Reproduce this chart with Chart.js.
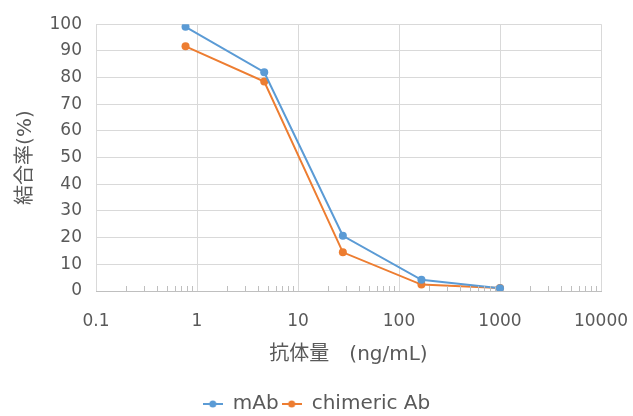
<!DOCTYPE html>
<html>
<head>
<meta charset="utf-8">
<script src="https://cdn.jsdelivr.net/npm/chart.js@4.4.1/dist/chart.umd.min.js"></script>
<style>
  html, body { margin: 0; padding: 0; background: #ffffff; }
  #wrap { width: 633px; height: 416px; }
</style>
</head>
<body>
<div id="wrap"><canvas id="grafico"></canvas></div>
<script>
// datos (diluciones 1:6)
const concentraciones = [0.77, 4.63, 27.8, 166.7, 1000];
const valoresMAb = [99, 82, 20.7, 4.2, 1];
const valoresQuimerico = [91.7, 78.5, 14.5, 2.4, 1.1];
const etiquetasX = [0.1, 1, 10, 100, 1000, 10000];
const etiquetasY = [0, 10, 20, 30, 40, 50, 60, 70, 80, 90, 100];

const AZUL = '#5B9BD5';
const NARANJA = '#ED7D31';
const FUENTE = "'DejaVu Sans', 'Noto Sans CJK JP', sans-serif";

// marcador de leyenda: línea con punto
function marcadorLeyenda(color) {
    const c = document.createElement('canvas');
    c.width = 20; c.height = 12;
    const g = c.getContext('2d');
    g.strokeStyle = color; g.lineWidth = 2;
    g.beginPath(); g.moveTo(0, 6); g.lineTo(20, 6); g.stroke();
    g.fillStyle = color;
    g.beginPath(); g.arc(10, 6, 3.5, 0, Math.PI * 2); g.fill();
    return c;
}

// marcas menores del eje logarítmico
const marcasMenores = {
    id: 'marcasMenores',
    afterDatasetsDraw(chart) {
        const x = chart.scales.x;
        const abajo = chart.chartArea.bottom;
        const ctx = chart.ctx;
        ctx.save();
        ctx.strokeStyle = '#bfbfbf';
        ctx.lineWidth = 1;
        for (let d = -1; d < 4; d++) {
            for (let k = 2; k <= 9; k++) {
                const px = Math.round(x.getPixelForValue(k * Math.pow(10, d))) + 0.5;
                ctx.beginPath();
                ctx.moveTo(px, abajo);
                ctx.lineTo(px, abajo - 5);
                ctx.stroke();
            }
        }
        ctx.restore();
    }
};

const datos = (serie) => concentraciones.map((c, i) => ({ x: c, y: serie[i] }));

new Chart(document.getElementById('grafico'), {
    type: 'line',
    data: {
        datasets: [
            {
                label: 'mAb',
                data: datos(valoresMAb),
                borderColor: AZUL,
                backgroundColor: AZUL,
                borderWidth: 2,
                pointRadius: 4,
                pointBorderWidth: 0
            },
            {
                label: 'chimeric Ab',
                data: datos(valoresQuimerico),
                borderColor: NARANJA,
                backgroundColor: NARANJA,
                borderWidth: 2,
                pointRadius: 4,
                pointBorderWidth: 0
            }
        ]
    },
    options: {
        responsive: true,
        maintainAspectRatio: false,
        animation: false,
        layout: { padding: { left: 0, right: 0, top: 12, bottom: -8 } },
        plugins: {
            legend: {
                position: 'bottom',
                labels: {
                    usePointStyle: true,
                    color: '#595959',
                    font: { family: FUENTE, size: 20 },
                    padding: 3,
                    generateLabels(chart) {
                        return chart.data.datasets.map((ds, i) => ({
                            text: ds.label,
                            pointStyle: marcadorLeyenda(ds.borderColor),
                            fillStyle: ds.borderColor,
                            strokeStyle: ds.borderColor,
                            fontColor: '#595959',
                            lineWidth: 0,
                            datasetIndex: i
                        }));
                    }
                }
            },
            tooltip: { enabled: false }
        },
        scales: {
            x: {
                type: 'logarithmic',
                min: 0.1,
                max: 10000,
                afterBuildTicks(scale) {
                    scale.ticks = etiquetasX.map(v => ({ value: v }));
                },
                afterFit(scale) {
                    scale.height = 100;
                    scale.paddingRight = 32;
                    scale.paddingLeft = 0;
                },
                ticks: {
                    color: '#595959',
                    font: { family: FUENTE, size: 17 },
                    padding: 20,
                    maxRotation: 0,
                    autoSkip: false,
                    callback: (v) => String(v)
                },
                grid: { color: '#d9d9d9', drawTicks: false },
                border: { color: '#bfbfbf' },
                title: {
                    display: true,
                    text: '抗体量　(ng/mL)',
                    color: '#595959',
                    font: { family: FUENTE, size: 20 },
                    padding: { top: 10, bottom: 24 }
                }
            },
            y: {
                min: 0,
                max: 100,
                afterBuildTicks(scale) {
                    scale.ticks = etiquetasY.map(v => ({ value: v }));
                },
                afterFit(scale) { scale.width = 96; },
                ticks: {
                    color: '#595959',
                    font: { family: FUENTE, size: 17 },
                    padding: 14
                },
                grid: { color: '#d9d9d9', drawTicks: false },
                border: { display: false },
                title: {
                    display: true,
                    text: '結合率(%)',
                    color: '#595959',
                    font: { family: FUENTE, size: 20 },
                    padding: { top: 14, bottom: 0 }
                }
            }
        }
    },
    plugins: [marcasMenores]
});
</script>
</body>
</html>
